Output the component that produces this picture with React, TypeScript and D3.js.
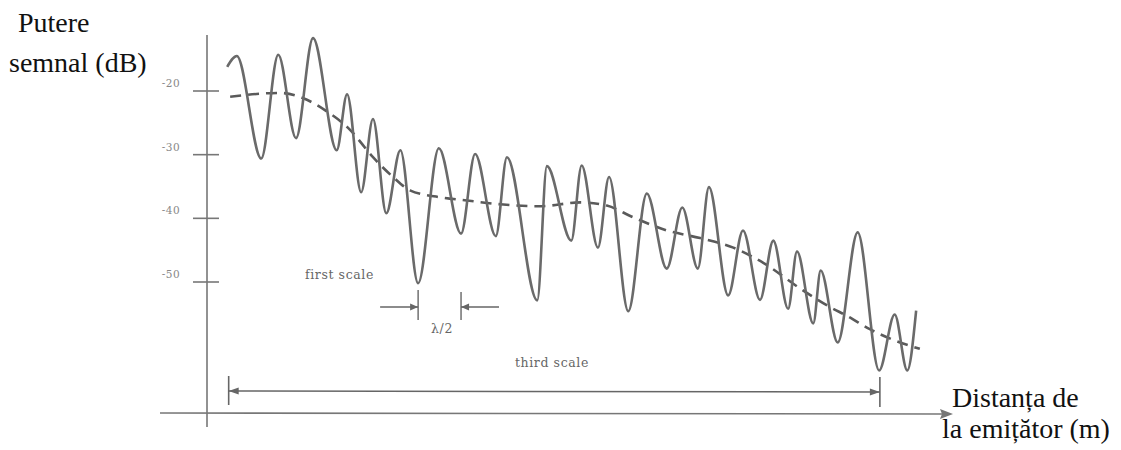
import React from 'react';
import * as d3 from 'd3';

// semnal măsurat: extreme locale (distanta, dB)
const distance = [3.0, 4.3, 7.6, 9.9, 12.3, 14.6, 17.8, 19.2, 21.1, 22.7, 24.5, 26.4, 28.8, 31.6, 34.6, 36.5, 39.3, 40.8, 44.9, 46.2, 49.5, 50.9, 53.1, 54.6, 57.2, 59.7, 62.4, 64.5, 66.6, 68.1, 70.7, 72.7, 75.0, 76.8, 78.8, 80.0, 82.2, 83.2, 85.5, 88.2, 91.1, 93.2, 94.9, 96.1];
const power = [-16.2, -14.5, -30.6, -14.3, -27.4, -11.7, -29.3, -20.5, -35.9, -24.4, -39.2, -29.3, -50.2, -29.0, -42.4, -29.9, -42.8, -30.4, -52.9, -31.8, -43.5, -31.7, -44.6, -33.5, -54.6, -36.1, -47.9, -38.3, -47.9, -35.1, -52.1, -41.9, -52.8, -43.5, -54.2, -45.2, -56.5, -48.2, -59.5, -42.2, -63.9, -55.1, -63.9, -54.5];

// valoarea medie (linia punctata)
const meanDistance = [3.4, 10.1, 13.2, 16.2, 19.6, 22.7, 25.4, 27.7, 31.8, 35.4, 39.9, 45.3, 50.7, 54.3, 57.8, 62.4, 66.9, 71.4, 75.6, 80.4, 84.1, 87.2, 89.5, 92.6, 96.6];
const meanPower = [-20.9, -20.3, -21.1, -23.0, -26.1, -30.4, -33.5, -35.6, -36.7, -37.2, -37.8, -38.1, -37.5, -38.0, -39.8, -41.9, -43.1, -44.6, -47.1, -51.0, -53.7, -55.6, -57.2, -58.9, -60.5];

const yTicks = [-20, -30, -40, -50];

// adnotari (in unitati de distanta)
const halfWave = [28.8, 34.6];
const thirdScale = [3.2, 91.2];

const App = () => {
  const x = d3.scaleLinear().domain([0, 100]).range([205, 945]);
  const y = d3.scaleLinear().domain([-20, -50]).range([91, 282]);

  const axisX = 207;
  const axisY = 413;

  const signal = distance.map((d, i) => [d, power[i]] as [number, number]);
  const mean = meanDistance.map((d, i) => [d, meanPower[i]] as [number, number]);

  const line = d3
    .line<[number, number]>()
    .x(d => x(d[0]))
    .y(d => y(d[1]))
    .curve(d3.curveMonotoneX);

  const gray = '#6a6a6a';
  const labelFont = 'DejaVu Serif, serif';

  const hwY = 307;
  const tsY = 391;

  return (
    <svg width={1121} height={450} style={{ position: 'absolute', left: 0, top: 0, background: '#fff' }}>
      {/* titluri axe */}
      <g fontFamily="Liberation Serif, Times New Roman, serif" fontSize={28} fill="#111">
        <text x={18} y={32}>Putere</text>
        <text x={9} y={72}>semnal (dB)</text>
        <text x={952} y={407}>Distanța de</text>
        <text x={942} y={438}>la emițător (m)</text>
      </g>

      {/* axe */}
      <line x1={axisX} x2={axisX} y1={35} y2={427} stroke="#777" strokeWidth={1.6} />
      <line x1={160} x2={942} y1={axisY} y2={axisY + 1} stroke="#777" strokeWidth={1.6} />
      <path d={`M953,${axisY + 1}L940,${axisY - 4}L942,${axisY + 1}L940,${axisY + 6}Z`} fill="#777" />

      {yTicks.map(t => (
        <g key={t}>
          <line x1={193} x2={219} y1={y(t)} y2={y(t)} stroke="#777" strokeWidth={1.6} />
          <text x={171} y={y(t) - 4} textAnchor="middle" fontFamily={labelFont} fontSize={10.5} fill="#888" letterSpacing={0.5}>
            {t}
          </text>
        </g>
      ))}

      {/* semnal */}
      <path d={line(mean) || ''} fill="none" stroke="#5a5a5a" strokeWidth={2.6} strokeDasharray="11,7" />
      <path d={line(signal) || ''} fill="none" stroke={gray} strokeWidth={2.6} />

      {/* λ/2 */}
      <g stroke="#666" strokeWidth={1.4} fill="#666">
        <line x1={x(halfWave[0])} x2={x(halfWave[0])} y1={290} y2={320} />
        <line x1={x(halfWave[1])} x2={x(halfWave[1])} y1={292} y2={320} />
        <line x1={x(halfWave[0]) - 38} x2={x(halfWave[0])} y1={hwY} y2={hwY} />
        <line x1={x(halfWave[1]) + 38} x2={x(halfWave[1])} y1={hwY} y2={hwY} />
        <path d={`M${x(halfWave[0])},${hwY}l-8,-3.5v7Z`} stroke="none" />
        <path d={`M${x(halfWave[1])},${hwY}l8,-3.5v7Z`} stroke="none" />
      </g>

      {/* third scale */}
      <g stroke="#666" strokeWidth={1.6} fill="#666">
        <line x1={x(thirdScale[0])} x2={x(thirdScale[0])} y1={376} y2={405} />
        <line x1={x(thirdScale[1])} x2={x(thirdScale[1])} y1={377} y2={407} />
        <line x1={x(thirdScale[0])} x2={x(thirdScale[1])} y1={tsY} y2={tsY + 1} />
        <path d={`M${x(thirdScale[0])},${tsY}l10,-3.5v7Z`} stroke="none" />
        <path d={`M${x(thirdScale[1])},${tsY + 1}l-10,-3.5v7Z`} stroke="none" />
      </g>

      <g fontFamily={labelFont} fontSize={12.5} fill="#666" letterSpacing={0.6}>
        <text x={305} y={279}>first scale</text>
        <text x={442} y={333} textAnchor="middle">λ/2</text>
        <text x={515} y={367}>third scale</text>
      </g>
    </svg>
  );
};

export default App;
